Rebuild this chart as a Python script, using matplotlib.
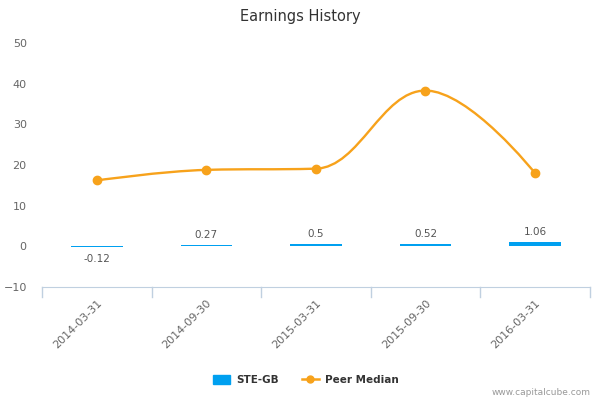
import numpy as np
import matplotlib
matplotlib.use("Agg")
import matplotlib.pyplot as plt
from matplotlib.path import Path
from matplotlib.patches import PathPatch
from matplotlib.lines import Line2D
from matplotlib.patches import Patch

# data
periods = ["2014-03-31", "2014-09-30", "2015-03-31", "2015-09-30", "2016-03-31"]
ste_gb = [-0.12, 0.27, 0.5, 0.52, 1.06]
peer_median = [16.2, 18.8, 19.1, 38.3, 18.0]

BAR_C = "#00a0f0"
LINE_C = "#f7a21b"


def spline_path(xs, ys, smoothing=1.5):
    # highcharts-like spline: bezier control points around each point
    n = len(xs)
    denom = smoothing + 1
    left = [(xs[i], ys[i]) for i in range(n)]
    right = [(xs[i], ys[i]) for i in range(n)]
    for i in range(1, n - 1):
        px, py = xs[i], ys[i]
        lx, ly = xs[i - 1], ys[i - 1]
        nx, ny = xs[i + 1], ys[i + 1]
        lcx = (smoothing * px + lx) / denom
        lcy = (smoothing * py + ly) / denom
        rcx = (smoothing * px + nx) / denom
        rcy = (smoothing * py + ny) / denom
        if rcx != lcx:
            corr = ((rcy - lcy) * (rcx - px)) / (rcx - lcx) + py - rcy
            lcy += corr
            rcy += corr
        if lcy > ly and lcy > py:
            lcy = max(ly, py)
            rcy = 2 * py - lcy
        elif lcy < ly and lcy < py:
            lcy = min(ly, py)
            rcy = 2 * py - lcy
        if rcy > ny and rcy > py:
            rcy = max(ny, py)
            lcy = 2 * py - rcy
        elif rcy < ny and rcy < py:
            rcy = min(ny, py)
            lcy = 2 * py - rcy
        left[i] = (lcx, lcy)
        right[i] = (rcx, rcy)
    verts = [(xs[0], ys[0])]
    codes = [Path.MOVETO]
    for i in range(1, n):
        verts += [right[i - 1], left[i], (xs[i], ys[i])]
        codes += [Path.CURVE4] * 3
    return Path(verts, codes)


fig = plt.figure(figsize=(6, 4), dpi=100)
ax = fig.add_axes([0.07, 0.2825, 0.913, 0.61])

x = np.arange(len(periods))
ax.bar(x, ste_gb, width=0.47, color=BAR_C, zorder=2)
for xi, v in zip(x, ste_gb):
    off = 7.5 if v >= 0 else -9
    ax.annotate(f"{v:g}", (xi, v), xytext=(0, off), textcoords="offset points",
                ha="center", va="center", fontsize=7.5, color="#555555")

ax.add_patch(PathPatch(spline_path(list(x), peer_median), facecolor="none",
                       edgecolor=LINE_C, lw=1.7, zorder=3))
ax.plot(x, peer_median, "o", color=LINE_C, ms=6, zorder=4)

ax.set_xlim(-0.5, len(periods) - 0.5)
ax.set_ylim(-10, 50)
ax.set_yticks(range(-10, 51, 10))
ax.set_xticks(x)
ax.set_xticklabels(periods, rotation=45, ha="right", rotation_mode="anchor")
ax.tick_params(axis="x", length=0, labelsize=8, labelcolor="#666666", pad=8)
ax.tick_params(axis="y", length=0, labelsize=8, labelcolor="#666666", pad=11)

for s in ["top", "right", "left"]:
    ax.spines[s].set_visible(False)
ax.spines["bottom"].set_color("#c0d0e0")
# category boundary ticks
for b in np.arange(-0.5, len(periods), 1.0):
    ax.plot([b, b], [0, -0.04], transform=ax.get_xaxis_transform(),
            color="#c0d0e0", lw=1, clip_on=False)

fig.text(0.5, 0.96, "Earnings History", ha="center", va="center",
         fontsize=10.5, color="#333333")

handles = [Patch(color=BAR_C, label="STE-GB"),
           Line2D([0], [0], color=LINE_C, marker="o", ms=5, lw=1.8, label="Peer Median")]
fig.legend(handles=handles, loc="center", bbox_to_anchor=(0.51, 0.05), ncol=2,
           frameon=False, prop={"size": 7.5, "weight": "bold"}, labelcolor="#333333",
           handlelength=1.6, handleheight=1.0, columnspacing=2.2, handletextpad=0.6)

fig.text(0.985, 0.018, "www.capitalcube.com", ha="right", va="center",
         fontsize=6.5, color="#999999")

fig.savefig("out.png", dpi=100, facecolor="white")
